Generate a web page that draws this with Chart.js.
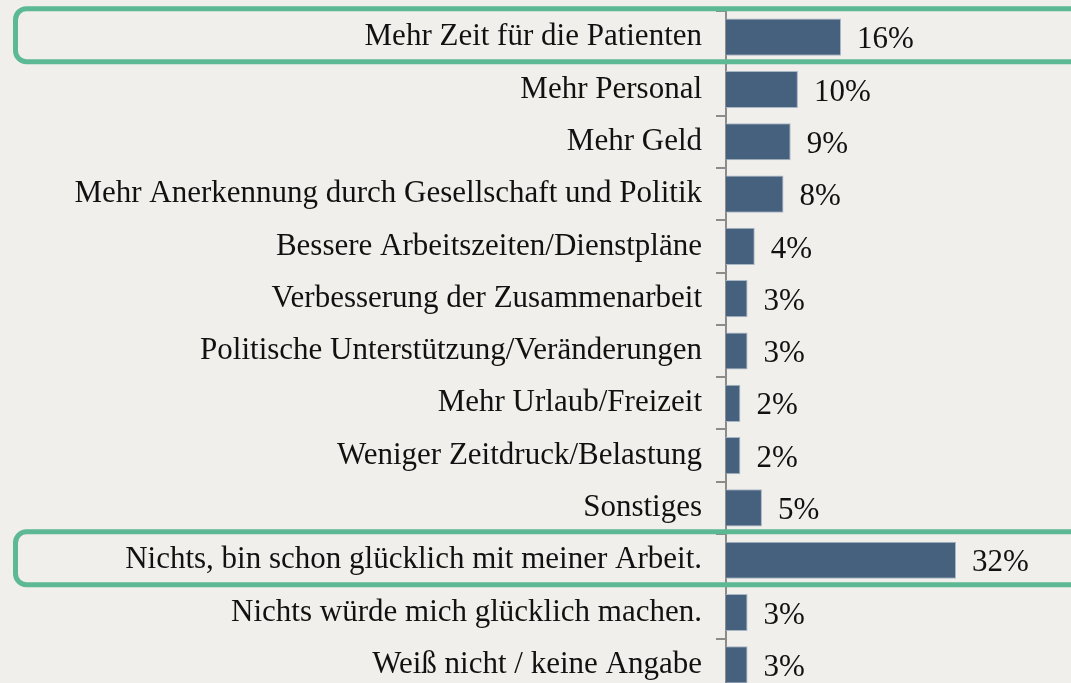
<!DOCTYPE html>
<html>
<head>
<meta charset="utf-8">
<script src="https://cdn.jsdelivr.net/npm/chart.js@4"></script>
<style>
    html, body { margin: 0; padding: 0; background: #f0efeb; overflow: hidden; }
    #wrap { width: 1071px; height: 683px; overflow: hidden; }
</style>
</head>
<body>
<div id="wrap"><canvas id="chartBar" width="1071" height="702"></canvas></div>
<script>
// Antworten und Anteile in Prozent
const labels = [
    'Mehr Zeit für die Patienten',
    'Mehr Personal',
    'Mehr Geld',
    'Mehr Anerkennung durch Gesellschaft und Politik',
    'Bessere Arbeitszeiten/Dienstpläne',
    'Verbesserung der Zusammenarbeit',
    'Politische Unterstützung/Veränderungen',
    'Mehr Urlaub/Freizeit',
    'Weniger Zeitdruck/Belastung',
    'Sonstiges',
    'Nichts, bin schon glücklich mit meiner Arbeit.',
    'Nichts würde mich glücklich machen.',
    'Weiß nicht / keine Angabe'
];
const values = [16, 10, 9, 8, 4, 3, 3, 2, 2, 5, 32, 3, 3];
const highlighted = [0, 10];

const labelFont = '31px "Liberation Serif", serif';

// value labels next to the bars
const valueLabels = {
    id: 'valueLabels',
    afterDatasetsDraw(chart) {
        const ctx = chart.ctx;
        const meta = chart.getDatasetMeta(0);
        ctx.save();
        ctx.font = labelFont;
        ctx.fillStyle = '#111';
        ctx.textAlign = 'left';
        ctx.textBaseline = 'middle';
        meta.data.forEach((bar, i) => {
            ctx.fillText(values[i] + '%', bar.x + 16, bar.y + 3);
        });
        ctx.restore();
    }
};

// green frames round the highlighted rows
const highlightBoxes = {
    id: 'highlightBoxes',
    afterDraw(chart) {
        const ctx = chart.ctx;
        const y = chart.scales.y;
        ctx.save();
        ctx.strokeStyle = '#5cb993';
        ctx.lineWidth = 5;
        highlighted.forEach(i => {
            const c = y.getPixelForValue(i);
            ctx.beginPath();
            ctx.roundRect(15.5, c - 28.5, 1120, 53, 11);
            ctx.stroke();
        });
        ctx.restore();
    }
};

const configBar = {
    type: 'bar',
    data: {
        labels: labels,
        datasets: [{
            data: values,
            backgroundColor: '#46617e',
            borderColor: '#a8b6c6',
            borderWidth: 1,
            borderSkipped: 'start',
            barPercentage: 0.71,
            categoryPercentage: 1
        }]
    },
    options: {
        indexAxis: 'y',
        responsive: false,
        animation: false,
        layout: { padding: { top: 11, bottom: 11, left: 0, right: 0 } },
        scales: {
            x: {
                display: false,
                min: 0,
                max: 48
            },
            y: {
                afterFit: function (scale) {
                    scale.width = 726;
                    scale.paddingTop = 0;
                    scale.paddingBottom = 0;
                },
                grid: {
                    drawOnChartArea: false,
                    tickLength: 10,
                    color: '#8c8c8c',
                    lineWidth: 2
                },
                border: { color: '#8c8c8c', width: 2 },
                ticks: {
                    color: '#111',
                    padding: 14,
                    font: { family: '"Liberation Serif", serif', size: 31 }
                }
            }
        },
        plugins: {
            legend: { display: false },
            tooltip: { enabled: false }
        }
    },
    plugins: [valueLabels, highlightBoxes]
};

const chartBar = new Chart(document.getElementById('chartBar'), configBar);
</script>
</body>
</html>
